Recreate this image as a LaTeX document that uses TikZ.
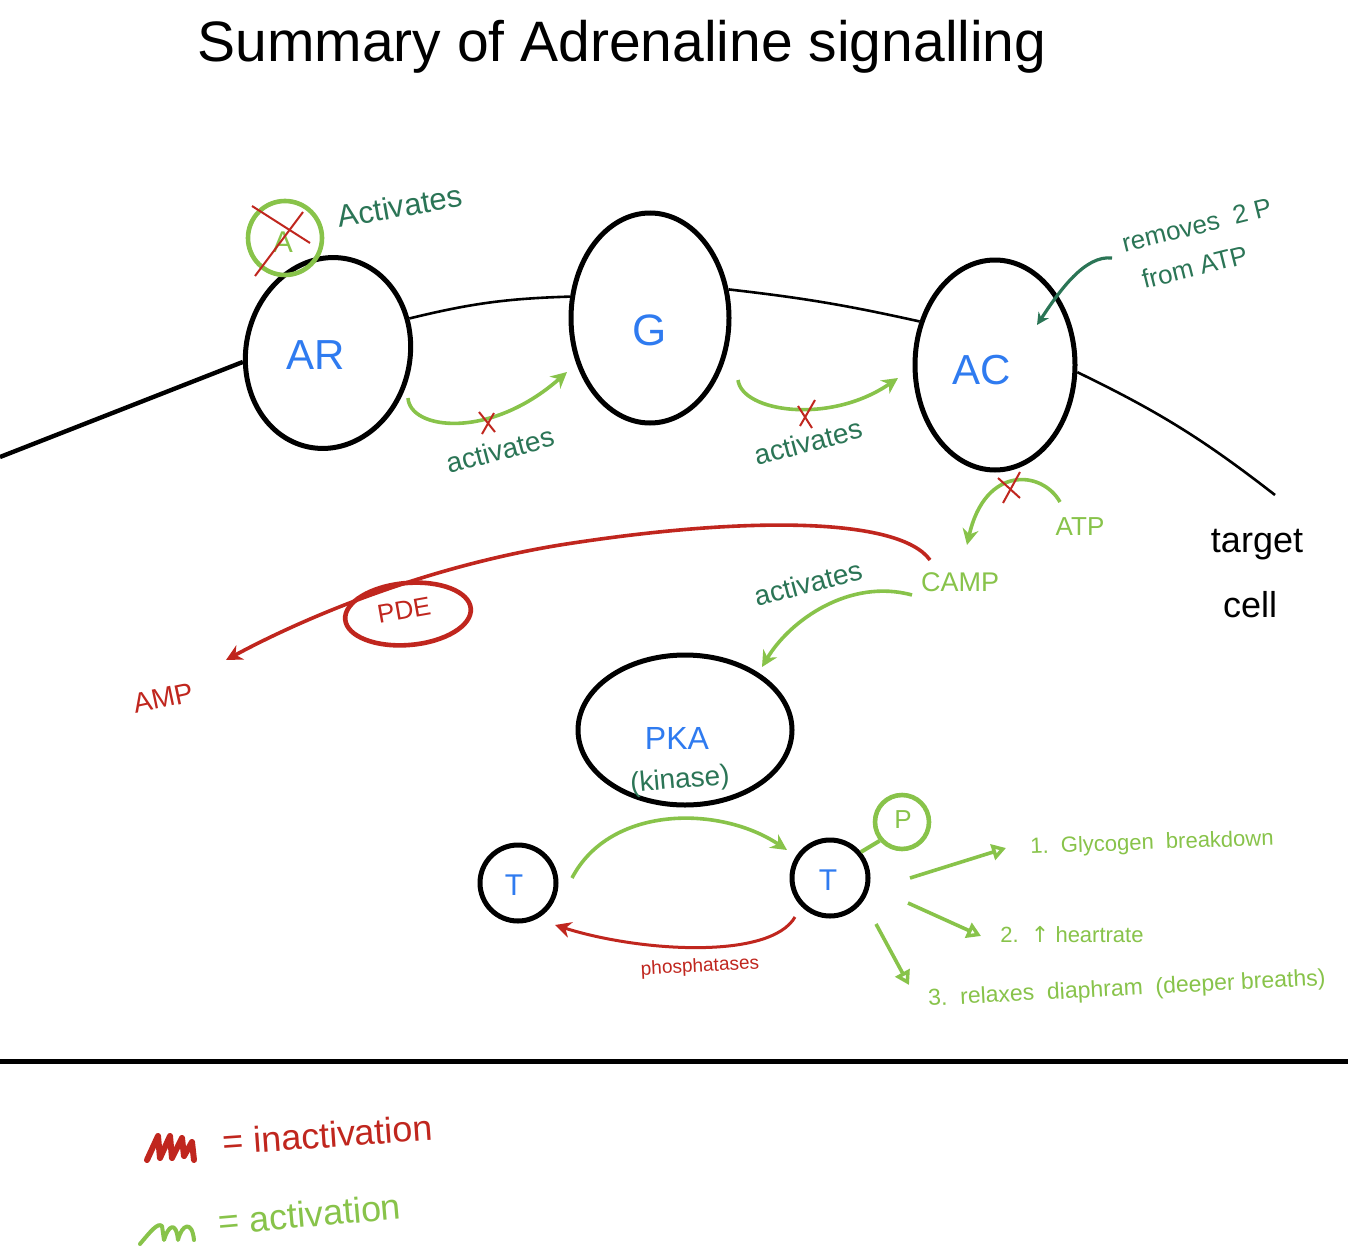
\documentclass[tikz,border=0pt]{standalone}
\usepackage{fontspec}
\setmainfont{Liberation Sans}
\newfontfamily\symfont{DejaVu Sans}
\usetikzlibrary{shapes.geometric,arrows.meta}
\definecolor{dgreen}{HTML}{2B7556}
\definecolor{lgreen}{HTML}{88C34A}
\definecolor{hred}{HTML}{C0261E}
\definecolor{hblue}{HTML}{2F7BF0}
\begin{document}
\begin{tikzpicture}[x=0.5pt,y=-0.5pt,
  mol/.style={draw=black, line width=2.5pt, ellipse, inner sep=0pt},
  tcirc/.style={draw=black, line width=2.5pt, circle, minimum size=38pt, inner sep=0pt},
  memb/.style={draw=black, line width=1.3pt},
  actarrow/.style={draw=lgreen, line width=1.8pt, -{Stealth[length=8pt,width=8pt]}},
  inarrow/.style={draw=hred, line width=1.8pt, -{Stealth[length=8pt,width=8pt]}},
  outarrow/.style={draw=lgreen, line width=1.8pt, -{Triangle[open,length=7pt,width=8pt]}},
  xmark/.style={draw=hred, line width=1pt},
  lab/.style={text=dgreen, font=\fontsize{14}{16}\selectfont, inner sep=0pt},
  glab/.style={text=lgreen, inner sep=0pt},
  rlab/.style={text=hred, inner sep=0pt},
  mollab/.style={text=hblue, inner sep=0pt}
]
\useasboundingbox (0,0) rectangle (1348,1252);
\fill[white] (0,0) rectangle (1348,1252);

% title
\node[inner sep=0pt, font=\fontsize{28.5}{32}\selectfont] (title) at (622,47) {Summary of Adrenaline signalling};

% molecules
\node[mol, minimum width=82pt, minimum height=96pt, rotate=-12] (AR) at (328,353) {};
\node[mollab, font=\fontsize{21}{24}\selectfont] (ARt) at (316,355) {AR};
\node[mol, minimum width=79pt, minimum height=105pt] (G) at (650,318) {};
\node[mollab, font=\fontsize{22}{24}\selectfont] (Gt) at (650,330) {G};
\node[mol, minimum width=80pt, minimum height=105pt] (AC) at (995,365) {};
\node[mollab, font=\fontsize{21}{24}\selectfont] (ACt) at (982,370) {AC};

% membrane
\coordinate (mleft) at (0,457);
\coordinate (mright) at (1275,495);
\draw[black, line width=2.2pt] (mleft) -- (AR.198);
\draw[memb] (AR.35) to[bend left=6] (G.165);
\draw[memb] (G.20) to[bend left=3] (AC.150);
\draw[memb] (AC.-5) to[bend left=6] (mright);

% adrenaline
\node[draw=lgreen, line width=2.3pt, circle, minimum size=37pt, inner sep=0pt] (A) at (285,238) {};
\node[glab, font=\fontsize{15}{16}\selectfont] (At) at (283,242) {A};
\draw[xmark] (252,206) -- (310,243);
\draw[xmark] (303,212) -- (255,276);
\node[lab, rotate=10, font=\fontsize{15.5}{18}\selectfont] (Aact) at (400,206) {Activates};

% AR -> G
\coordinate (ARo) at (408,398);
\coordinate (Gi) at (567,372);
\draw[actarrow] (ARo) .. controls (410,430) and (490,440) .. (Gi);
\draw[xmark] (479,412) -- (495,432);
\draw[xmark] (494,413) -- (482,434);
\node[lab, rotate=15] (l1) at (500,450) {activates};

% G -> AC
\coordinate (Go) at (738,380);
\coordinate (ACi) at (898,378);
\draw[actarrow] (Go) .. controls (742,412) and (830,425) .. (ACi);
\draw[xmark] (798,406) -- (812,428);
\draw[xmark] (815,400) -- (800,426);
\node[lab, rotate=15] (l2) at (808,442) {activates};

% removes 2P from ATP
\node[lab, rotate=14, font=\fontsize{13}{16}\selectfont, anchor=west] (rem1) at (1122,244) {removes \ 2 P};
\node[lab, rotate=14, font=\fontsize{13}{16}\selectfont, anchor=west] (rem2) at (1142,280) {from ATP};
\coordinate (rems) at (1112,258);
\coordinate (reme) at (1037,325);
\draw[draw=dgreen, line width=1.6pt, -{Stealth[length=6pt,width=6pt]}] (rems) .. controls (1085,255) and (1060,290) .. (reme);

% ATP -> cAMP
\node[glab, font=\fontsize{13}{16}\selectfont] (ATP) at (1080,527) {ATP};
\node[glab, font=\fontsize{13.5}{16}\selectfont] (cAMP) at (960,582) {CAMP};
\coordinate (atps) at (1060,502);
\coordinate (campe) at (967,545);
\draw[actarrow] (atps) .. controls (1042,470) and (985,465) .. (campe);
\draw[xmark] (998,478) -- (1020,498);
\draw[xmark] (1020,472) -- (1003,503);

% target cell
\node[inner sep=0pt, font=\fontsize{18}{20}\selectfont] (tgt) at (1257,545) {target};
\node[inner sep=0pt, font=\fontsize{18}{20}\selectfont] (cell) at (1250,605) {cell};

% cAMP -> AMP (PDE)
\node[rlab, font=\fontsize{14}{16}\selectfont, rotate=12] (AMP) at (163,698) {AMP};
\coordinate (pdes) at (930,560);
\coordinate (ampe) at (226,660);
\draw[inarrow] (pdes) .. controls (900,518) and (750,515) .. (560,545) .. controls (420,568) and (300,620) .. (ampe);
\node[draw=hred, line width=2.3pt, ellipse, minimum width=63pt, minimum height=31pt, rotate=5] (PDE) at (408,614) {};
\node[rlab, font=\fontsize{13}{16}\selectfont, rotate=10] (PDEt) at (404,610) {PDE};

% cAMP -> PKA
\node[mol, minimum width=107pt, minimum height=75pt] (PKA) at (685,730) {};
\node[mollab, font=\fontsize{16}{18}\selectfont] (PKAt) at (677,738) {PKA};
\node[lab, font=\fontsize{14}{16}\selectfont, rotate=5] (kin) at (680,781) {(kinase)};
\node[lab, rotate=15] (l3) at (808,583) {activates};
\coordinate (pkas) at (912,595);
\coordinate (pkae) at (762,667);
\draw[actarrow] (pkas) .. controls (850,578) and (790,620) .. (pkae);

% targets
\node[tcirc] (T1) at (518,883) {};
\node[mollab, font=\fontsize{15}{18}\selectfont] (T1t) at (514,885) {T};
\node[tcirc] (T2) at (830,878) {};
\node[mollab, font=\fontsize{15}{18}\selectfont] (T2t) at (828,880) {T};
\node[draw=lgreen, line width=2.3pt, circle, minimum size=27pt, inner sep=0pt] (P) at (902,822) {};
\node[glab, font=\fontsize{13}{16}\selectfont] (Pt) at (903,820) {P};
\draw[draw=lgreen, line width=2pt] (T2.40) -- (P.220);

\coordinate (t1o) at (572,878);
\coordinate (t2i) at (787,850);
\draw[actarrow] (t1o) .. controls (610,805) and (720,805) .. (t2i);
\coordinate (t2o) at (795,917);
\coordinate (t1i) at (555,925);
\draw[inarrow, line width=1.5pt] (t2o) .. controls (770,960) and (640,952) .. (t1i);
\node[rlab, font=\fontsize{9.5}{12}\selectfont, rotate=3] (phos) at (700,967) {phosphatases};

% effects
\coordinate (e1s) at (910,878);
\coordinate (e1e) at (1006,848);
\coordinate (e2s) at (908,903);
\coordinate (e2e) at (981,936);
\coordinate (e3s) at (876,924);
\coordinate (e3e) at (909,985);
\draw[outarrow] (e1s) -- (e1e);
\draw[outarrow] (e2s) -- (e2e);
\draw[outarrow] (e3s) -- (e3e);
\node[glab, font=\fontsize{11}{14}\selectfont, anchor=west, rotate=2] (eff1) at (1030,848) {1.\ \ Glycogen \ breakdown};
\node[glab, font=\fontsize{11}{14}\selectfont, anchor=west] (eff2) at (1000,935) {2.\ \ {\symfont ↑} heartrate};
\node[glab, font=\fontsize{11.5}{14}\selectfont, anchor=west, rotate=3] (eff3) at (928,1000) {3.\ \ relaxes \ diaphram \ (deeper breaths)};

% divider
\coordinate (dl) at (0,1061);
\coordinate (dr) at (1348,1061);
\draw[black, line width=2.5pt] (dl) -- (dr);

% legend
\draw[hred, line width=3pt, line cap=round, line join=round]
  (147,1160) -- (158,1136) -- (160,1158) -- (170,1136) -- (172,1158) -- (182,1138) -- (184,1156) -- (192,1142) -- (194,1160);
\node[rlab, font=\fontsize{18}{20}\selectfont, anchor=west, rotate=4] (inact) at (222,1142) {= inactivation};
\draw[lgreen, line width=2pt, line cap=round, line join=round]
  (140,1244) .. controls (150,1232) and (158,1222) .. (162,1226) -- (164,1240)
  .. controls (168,1226) and (176,1220) .. (178,1240)
  .. controls (182,1224) and (192,1220) .. (194,1240);
\node[glab, font=\fontsize{18}{20}\selectfont, anchor=west, rotate=5] (act) at (218,1222) {= activation};
\end{tikzpicture}
\end{document}
